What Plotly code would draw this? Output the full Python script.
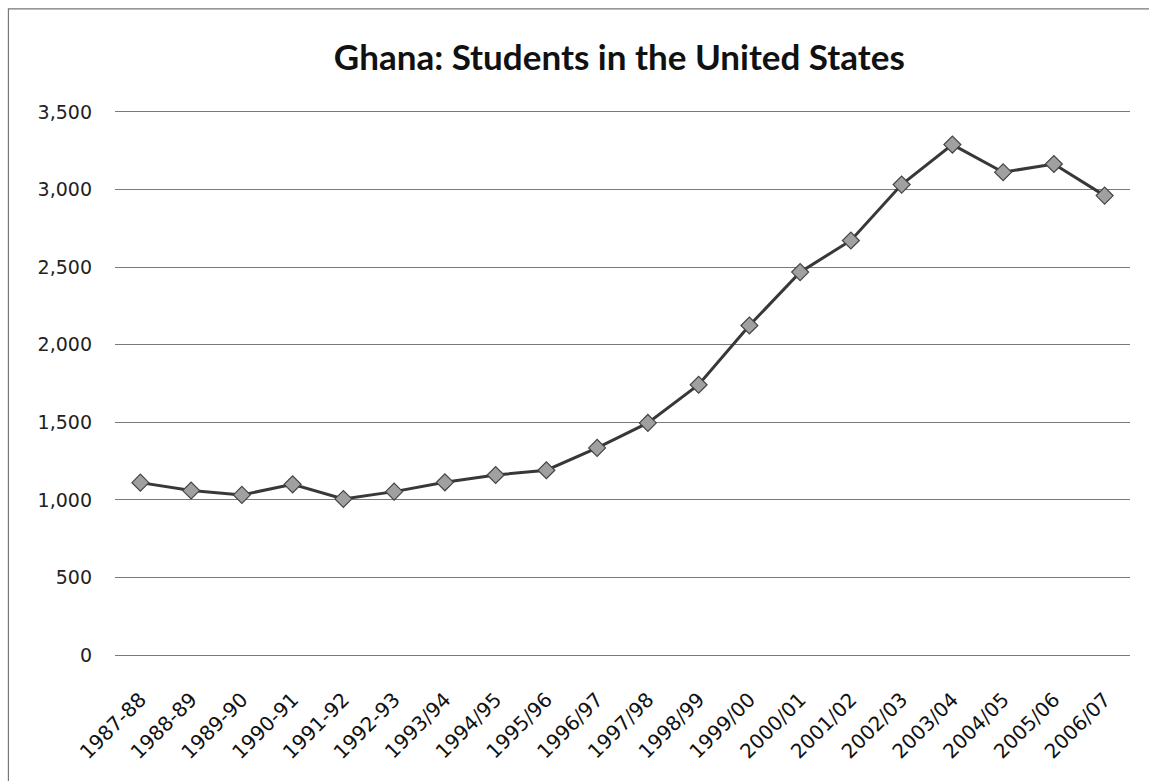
import plotly.graph_objects as go

years = ["1987-88", "1988-89", "1989-90", "1990-91", "1991-92", "1992-93",
         "1993/94", "1994/95", "1995/96", "1996/97", "1997/98", "1998/99",
         "1999/00", "2000/01", "2001/02", "2002/03", "2003/04", "2004/05",
         "2005/06", "2006/07"]
students = [1111, 1060, 1032, 1100, 1006, 1053, 1113, 1160, 1191, 1335,
            1496, 1742, 2124, 2468, 2672, 3032, 3290, 3112, 3165, 2961]
y_ticks = [0, 500, 1000, 1500, 2000, 2500, 3000, 3500]

fig = go.Figure()
fig.add_trace(go.Scatter(
    x=years, y=students, mode="lines+markers",
    line=dict(color="#383838", width=3),
    marker=dict(symbol="diamond", size=13, color="#a0a0a0",
                line=dict(color="#444444", width=1.2)),
    showlegend=False,
))

fig.update_layout(
    width=1149, height=781,
    margin=dict(l=115, r=19, t=112, b=126),
    paper_bgcolor="white", plot_bgcolor="white",
    title=dict(text="<b>Ghana: Students in the United States</b>",
               x=0.539, xanchor="center", xref="container",
               y=0.926, yanchor="middle",
               font=dict(family="Lato, Open Sans, sans-serif", size=35, color="#111")),
    xaxis=dict(type="category", range=[-0.5, 19.5], tickangle=-45,
               showgrid=False, showline=True, mirror=True,
               linecolor="#7a7a7a", linewidth=1, ticks="",
               ticklabelstandoff=24,
               tickfont=dict(family="DejaVu Sans, sans-serif", size=20, color="#111")),
    yaxis=dict(range=[0, 3500], tickvals=y_ticks, tickformat=",",
               showgrid=True, gridcolor="#7a7a7a", gridwidth=1,
               zeroline=False, showline=False, ticks="",
               ticklabelstandoff=22,
               tickfont=dict(family="DejaVu Sans, sans-serif", size=19, color="#222")),
    shapes=[dict(type="rect", xref="paper", yref="paper",
                 x0=-0.105, x1=1.03, y0=-0.25, y1=1.19,
                 line=dict(color="#777", width=1.2))],
)

fig.write_html("out.html")
